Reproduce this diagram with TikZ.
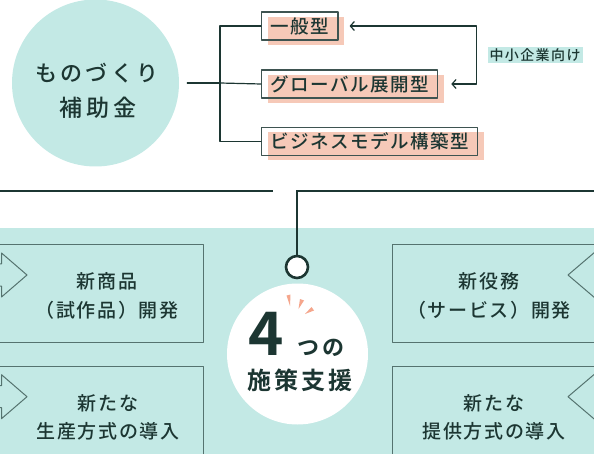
\documentclass[tikz,border=0pt]{standalone}
\usepackage{fontspec}
\setmainfont{Noto Sans CJK JP}[UprightFont={* Medium},BoldFont={* Bold}]
\usetikzlibrary{arrows.meta}
\usetikzlibrary{shadows}
\definecolor{mint}{HTML}{C3E9E5}
\definecolor{ink}{HTML}{1C3632}
\definecolor{frame}{HTML}{55736F}
\definecolor{salmon}{HTML}{F6C9B8}
\definecolor{spark}{HTML}{F5A68C}

\begin{document}
\begin{tikzpicture}[line cap=round,line join=round,x=1pt,y=-1pt,
  conn/.style={line width=1.2pt,color=ink},
  bar/.style={line width=2.6pt,color=ink,line cap=butt,line join=miter},
  tag/.style={draw=ink!85,line width=1.1pt,anchor=west,minimum height=28pt,inner xsep=9pt,inner ysep=0pt,text=ink,
    font=\fontsize{18.5}{18.5}\selectfont\addfontfeature{LetterSpace=8},
    drop shadow={fill=salmon,opacity=1,shadow xshift=6pt,shadow yshift=-5pt}},
  plan/.style={draw=frame,line width=1pt},
  plantext/.style={text=ink,align=center,inner sep=0pt,font=\fontsize{19}{28.5}\selectfont\addfontfeature{LetterSpace=9}},
  barb/.style={{Straight Barb[length=4pt,width=9pt]}-{Straight Barb[length=4pt,width=9pt]}}]
\useasboundingbox (0,0) rectangle (594,454);
\node[circle,fill=mint,minimum size=167pt,inner sep=0pt] (hojo) at (95.5,83) {};
\node[text=ink,font=\fontsize{22}{22}\selectfont\addfontfeature{LetterSpace=15}] (hojo1) at (97,73) {ものづくり};
\node[text=ink,font=\fontsize{23}{23}\selectfont\addfontfeature{LetterSpace=17}] (hojo2) at (98,108) {補助金};
\node[tag] (ippan) at (261,26) {一般型};
\node[tag] (global) at (261,84) {グローバル展開型};
\node[tag] (model) at (261,141.5) {ビジネスモデル構築型};
\coordinate (br) at (220,83);
\coordinate (turn) at (476.7,55);
\draw[conn,shorten <=8pt] (hojo.east) -- (br);
\draw[conn] (ippan.west) -| (br) |- (model.west);
\draw[conn] (br) -- (global.west);
\draw[conn,barb] ([xshift=11pt]ippan.east) -| (turn) |- ([xshift=13pt]global.east);
\node[fill=mint,text=ink,inner xsep=2pt,inner ysep=1pt,font=\fontsize{14}{14}\selectfont\addfontfeature{LetterSpace=10}] (chusho) at (535,55) {中小企業向け};
\fill[mint] (0,228) rectangle (594,454);
\node[plan,minimum width=206pt,minimum height=97pt] (shohin) at (100.5,293.5) {};
\node[plan,minimum width=206pt,minimum height=97pt] (seisan) at (100.5,415.2) {};
\node[plan,minimum width=206pt,minimum height=97pt] (ekimu) at (495.7,293.5) {};
\node[plan,minimum width=206pt,minimum height=97pt] (teikyo) at (495.7,415.2) {};
\foreach \y in {0,121.7} {
  \draw[frame,line width=1pt] (-3,264+\y) -- (1.5,264+\y) -- (1.5,253+\y) -- (27,275+\y) -- (1.5,297+\y) -- (1.5,286+\y) -- (-3,286+\y);
  \draw[frame,line width=1pt] (600,264+\y) -- (595,264+\y) -- (595,252+\y) -- (568,275+\y) -- (595,298+\y) -- (595,286+\y) -- (600,286+\y);
}
\node[plantext] (shohintxt) at (107,296) {新商品\\（試作品）開発};
\node[plantext] (seisantxt) at (108,417.5) {新たな\\生産方式の導入};
\node[plantext] (ekimutxt) at (489,296) {新役務\\（サービス）開発};
\node[plantext] (teikyotxt) at (494,417.5) {新たな\\提供方式の導入};
\node[circle,fill=white,minimum size=141pt,inner sep=0pt] (shisaku) at (297.5,354) {};
\node[circle,draw=ink,line width=2.6pt,fill=white,minimum size=22pt,inner sep=0pt] (ring) at (297,267) {};
\coordinate (cut) at (273,191);
\coordinate (join) at (297,191);
\draw[bar] (0,191) -- (cut);
\draw[bar] (594,191) -- (join) -- (ring.north);
\foreach \a/\b/\c in {{(286.5,295.5)}/{(290.5,294.5)}/{(290,306)},{(300,299)}/{(304,300.5)}/{(298.5,309)},{(311.5,307)}/{(314,310.5)}/{(305,314)}}
  \fill[spark] \a -- \b -- \c -- cycle;
\node[anchor=base,text=ink,inner sep=0pt,font=\fontsize{60}{60}\selectfont\bfseries] (four) at (266.5,355) {4};
\node[text=ink,inner sep=0pt,font=\fontsize{22}{22}\selectfont\bfseries\addfontfeature{LetterSpace=14}] (tsuno) at (321,348) {つの};
\node[text=ink,inner sep=0pt,font=\fontsize{24}{24}\selectfont\bfseries\addfontfeature{LetterSpace=12}] (shien) at (300,380) {施策支援};
\end{tikzpicture}
\end{document}
